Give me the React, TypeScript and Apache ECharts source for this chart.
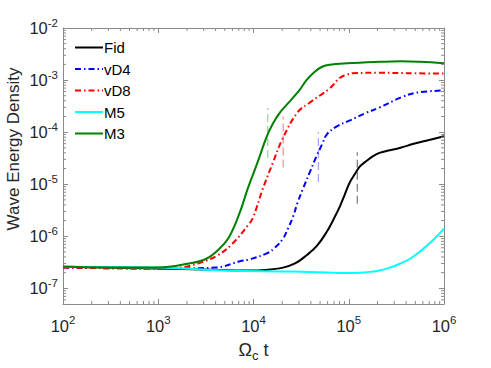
import React, { useEffect, useRef } from "react";
import * as echarts from "echarts";

// ---- data ----
const seriesNames = ["Fid", "vD4", "vD8", "M5", "M3"];
const seriesColors = ["#000000", "#0000ff", "#ff0000", "#00ffff", "#008000"];

const fid = [
  [100, 2.6e-7], [300, 2.5e-7], [1000, 2.4e-7], [3000, 2.3e-7], [9000, 2.2e-7],
  [1.32e4, 2.25e-7], [2.04e4, 2.5e-7], [2.73e4, 3.0e-7], [3.6e4, 4.3e-7], [4.65e4, 6.6e-7],
  [5.9e4, 1.23e-6], [7.0e4, 2.2e-6], [8.1e4, 3.8e-6], [9.1e4, 6.4e-6], [1.03e5, 1.1e-5],
  [1.16e5, 1.57e-5], [1.31e5, 2.2e-5], [1.48e5, 2.65e-5], [1.8e5, 3.45e-5], [2.1e5, 4.0e-5],
  [2.7e5, 4.5e-5], [3.5e5, 5.0e-5], [4.7e5, 5.9e-5], [6.8e5, 7.0e-5], [1e6, 8.3e-5],
];
const vD4 = [
  [100, 2.5e-7], [1000, 2.4e-7], [4000, 2.5e-7], [7200, 3.3e-7], [9100, 3.6e-7],
  [1.38e4, 4.7e-7], [1.68e4, 6.05e-7], [2.04e4, 9.0e-7], [2.3e4, 1.4e-6], [2.6e4, 2.37e-6],
  [2.9e4, 4.4e-6], [3.3e4, 8.1e-6], [3.9e4, 1.7e-5], [4.6e4, 3.5e-5], [5.25e4, 5.85e-5],
  [5.9e4, 9.1e-5], [7.5e4, 1.29e-4], [1.03e5, 1.68e-4], [1.48e5, 2.3e-4], [2.1e5, 2.97e-4],
  [3.5e5, 4.6e-4], [5.2e5, 5.75e-4], [1e6, 6.3e-4],
];
const vD8 = [
  [100, 2.5e-7], [1000, 2.4e-7], [1700, 2.5e-7], [2600, 3.0e-7], [4200, 4.3e-7],
  [6000, 7.2e-7], [8700, 1.6e-6], [9800, 2.2e-6], [1.25e4, 8.1e-6], [1.6e4, 2.6e-5],
  [2.0e4, 7.2e-5], [2.9e4, 2.4e-4], [3.9e4, 3.7e-4], [6.3e4, 6.9e-4], [8.1e4, 1.11e-3],
  [9.6e4, 1.27e-3], [1.1e5, 1.35e-3], [2e5, 1.38e-3], [5e5, 1.35e-3], [1e6, 1.33e-3],
];
const m5 = [
  [100, 2.6e-7], [1000, 2.5e-7], [5000, 2.2e-7], [2.6e4, 2.1e-7], [5.9e4, 2.02e-7],
  [8.7e4, 1.98e-7], [1.31e5, 2.0e-7], [1.66e5, 2.07e-7], [2.1e5, 2.2e-7], [2.7e5, 2.5e-7],
  [3.5e5, 3.0e-7], [4.4e5, 3.7e-7], [5.6e5, 5.1e-7], [7.6e5, 8.3e-7], [1e6, 1.4e-6],
];
const m3 = [
  [100, 2.6e-7], [1000, 2.5e-7], [2100, 3.0e-7], [3200, 3.7e-7], [4400, 5.8e-7],
  [5600, 1.0e-6], [7200, 2.9e-6], [8700, 8.2e-6], [1.1e4, 2.6e-5], [1.38e4, 8.3e-5],
  [1.6e4, 1.47e-4], [1.9e4, 2.4e-4], [2.25e4, 3.4e-4], [2.6e4, 4.6e-4], [3.08e4, 6.6e-4],
  [3.6e4, 1.0e-3], [4.4e4, 1.45e-3], [5.25e4, 1.8e-3], [6.3e4, 1.97e-3], [9.6e4, 2.1e-3],
  [2.1e5, 2.24e-3], [3.5e5, 2.3e-3], [5.6e5, 2.24e-3], [1e6, 2.1e-3],
];
const seriesData = [fid, vD4, vD8, m5, m3];

// vertical dashed markers: [t, yLow, yHigh]
const markerFid = [1.23e5, 4.2e-6, 4.1e-5];
const markerVD4 = [4.8e4, 1.1e-5, 1.0e-4];
const markerVD8 = [2.05e4, 2.1e-5, 2.0e-4];
const markerM3 = [1.41e4, 3.2e-5, 2.9e-4];
const markers = [markerFid, markerVD4, markerVD8, markerM3];
const markerColors = [
  "rgba(90,90,90,0.75)",
  "rgba(80,80,255,0.5)",
  "rgba(255,60,60,0.55)",
  "rgba(40,150,40,0.45)",
];

// axes
const xMin = 1e2;
const xMax = 1e6;
const yMin = 5e-8;
const yMax = 1e-2;
const minorMultipliers = [2, 3, 4, 5, 6, 7, 8, 9];
const xDecades = [1e2, 1e3, 1e4, 1e5];
const yDecades = [1e-8, 1e-7, 1e-6, 1e-5, 1e-4, 1e-3];
const yTitle = "Wave Energy Density";

const AXIS = "#8a8a8a";
const TEXT = "#262626";
const FONT = "'Liberation Sans', Arial, Helvetica, sans-serif";

function powLabel(v: number) {
  const lg = Math.log10(v);
  const e = Math.round(lg);
  if (Math.abs(lg - e) > 1e-6) return "";
  return `{b|10}{s|${e}}`;
}

const labelRich = {
  b: { fontSize: 16.5, fontFamily: FONT, color: TEXT },
  s: { fontSize: 11.5, fontFamily: FONT, color: TEXT, padding: [0, 0, 11, 0] },
};

export default function App() {
  const ref = useRef<HTMLDivElement>(null);
  useEffect(() => {
    if (!ref.current) return;
    const chart = echarts.init(ref.current, null, { renderer: "svg" });

    const xMinor: number[][] = [];
    xDecades.forEach((d) =>
      minorMultipliers.forEach((m) => {
        const v = d * m;
        if (v > xMin && v < xMax) xMinor.push([v, 1e-4]);
      })
    );
    const yMinor: number[][] = [];
    yDecades.forEach((d) =>
      minorMultipliers.forEach((m) => {
        const v = d * m;
        if (v > yMin && v < yMax) yMinor.push([1e3, v]);
      })
    );

    const dashDot = [6, 3, 1.5, 3];
    const lineTypes: any[] = ["solid", dashDot, dashDot, "solid", "solid"];

    const mainSeries = seriesNames.map((name, i) => ({
      type: "line",
      name,
      data: seriesData[i],
      showSymbol: false,
      symbol: "none",
      smooth: 0.4,
      lineStyle: { color: seriesColors[i], width: 2, type: lineTypes[i] },
      itemStyle: { color: seriesColors[i], opacity: 0 },
      z: 3 + i,
    }));

    const markerSeries = markers.map((mk, i) => ({
      type: "line",
      name: "marker" + i,
      data: [
        [mk[0], mk[1]],
        [mk[0], mk[2]],
      ],
      showSymbol: false,
      symbol: "none",
      lineStyle: { color: markerColors[i], width: 1.3, type: [8, 4] },
      z: 10,
    }));

    const tickSeries = [
      {
        type: "custom",
        name: "xminor",
        silent: true,
        clip: false,
        z: 20,
        data: xMinor,
        renderItem: (params: any, api: any) => {
          const x = api.coord([api.value(0), api.value(1)])[0];
          const cs = params.coordSys;
          const style = { stroke: AXIS, lineWidth: 1 };
          return {
            type: "group",
            children: [
              { type: "line", shape: { x1: x, y1: cs.y + cs.height, x2: x, y2: cs.y + cs.height - 3 }, style },
              { type: "line", shape: { x1: x, y1: cs.y, x2: x, y2: cs.y + 3 }, style },
            ],
          };
        },
      },
      {
        type: "custom",
        name: "yminor",
        silent: true,
        clip: false,
        z: 20,
        data: yMinor,
        renderItem: (params: any, api: any) => {
          const y = api.coord([api.value(0), api.value(1)])[1];
          const cs = params.coordSys;
          const style = { stroke: AXIS, lineWidth: 1 };
          return {
            type: "group",
            children: [
              { type: "line", shape: { x1: cs.x, y1: y, x2: cs.x + 3, y2: y }, style },
              { type: "line", shape: { x1: cs.x + cs.width, y1: y, x2: cs.x + cs.width - 3, y2: y }, style },
            ],
          };
        },
      },
    ];

    const option: any = {
      animation: false,
      backgroundColor: "#ffffff",
      textStyle: { fontFamily: FONT },
      grid: { left: 63, right: 47, top: 28, bottom: 64, containLabel: false },
      graphic: [
        {
          type: "text",
          x: 13,
          y: 149,
          rotation: Math.PI / 2,
          style: {
            text: yTitle,
            font: `17px ${FONT}`,
            fill: TEXT,
            textAlign: "center",
            textVerticalAlign: "middle",
          },
        },
      ],
      legend: {
        data: seriesNames,
        orient: "vertical",
        left: 74,
        top: 40,
        padding: 0,
        itemWidth: 28,
        itemHeight: 14,
        itemGap: 6.5,
        itemStyle: { opacity: 0 },
        textStyle: { fontSize: 15, lineHeight: 14, color: "#000", fontFamily: FONT, padding: [0, 0, 0, -4] },
      },
      xAxis: [
        {
          type: "log",
          logBase: 10,
          min: xMin,
          max: xMax,
          position: "bottom",
          name: "{a|Ω}{c|c}{a| t}",
          nameLocation: "middle",
          nameGap: 33,
          nameTextStyle: {
            rich: {
              a: { fontSize: 18, fontFamily: FONT, color: TEXT },
              c: { fontSize: 13, fontFamily: FONT, color: TEXT, padding: [12, 0, 0, 0] },
            },
          },
          axisLine: { show: true, lineStyle: { color: AXIS, width: 1 } },
          axisTick: { show: true, inside: true, length: 5, lineStyle: { color: AXIS } },
          axisLabel: { formatter: powLabel, rich: labelRich, margin: 10 },
          splitLine: { show: false },
        },
        {
          type: "log",
          logBase: 10,
          min: xMin,
          max: xMax,
          position: "top",
          axisLine: { show: true, lineStyle: { color: AXIS, width: 1 } },
          axisTick: { show: true, inside: true, length: 5, lineStyle: { color: AXIS } },
          axisLabel: { show: false },
          splitLine: { show: false },
        },
      ],
      yAxis: [
        {
          type: "log",
          logBase: 10,
          min: yMin,
          max: yMax,
          position: "left",
          axisLine: { show: true, lineStyle: { color: AXIS, width: 1 } },
          axisTick: { show: true, inside: true, length: 5, lineStyle: { color: AXIS } },
          axisLabel: { formatter: powLabel, rich: labelRich, margin: 5 },
          splitLine: { show: false },
        },
        {
          type: "log",
          logBase: 10,
          min: yMin,
          max: yMax,
          position: "right",
          axisLine: { show: true, lineStyle: { color: AXIS, width: 1 } },
          axisTick: { show: true, inside: true, length: 5, lineStyle: { color: AXIS } },
          axisLabel: { show: false },
          splitLine: { show: false },
        },
      ],
      series: [...mainSeries, ...markerSeries, ...tickSeries],
    };
    chart.setOption(option);
    return () => chart.dispose();
  }, []);

  return (
    <div
      ref={ref}
      style={{ position: "fixed", left: 0, top: 0, width: 491, height: 368, background: "#fff" }}
    />
  );
}
